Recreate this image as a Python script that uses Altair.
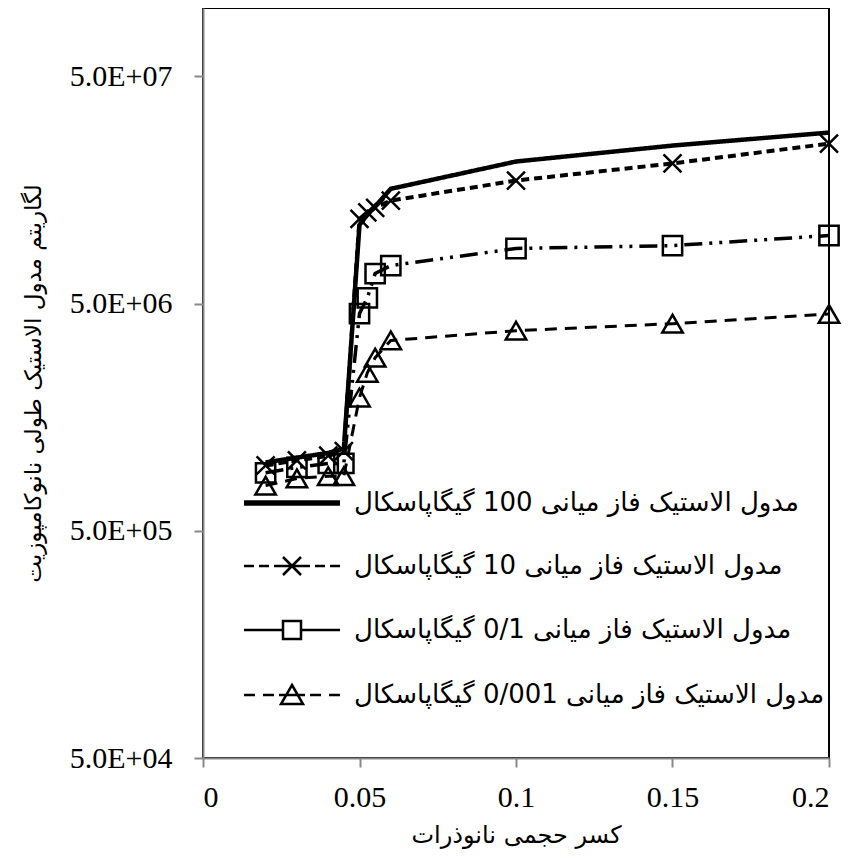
import json
import altair as alt
import pandas as pd

# ---- data ----
x_vals = [0.02, 0.03, 0.04, 0.045, 0.05, 0.0525, 0.055, 0.06, 0.1, 0.15, 0.2]

S100 = "مدول الاستیک فاز میانی 100 گیگاپاسکال"
S10 = "مدول الاستیک فاز میانی 10 گیگاپاسکال"
S01 = "مدول الاستیک فاز میانی 0/1 گیگاپاسکال"
S0001 = "مدول الاستیک فاز میانی 0/001 گیگاپاسکال"
series_names = [S100, S10, S01, S0001]

E_100 = [1.00e6, 1.05e6, 1.10e6, 1.15e6, 1.11e7, 1.23e7, 1.34e7, 1.60e7, 2.11e7, 2.48e7, 2.83e7]
E_10 = [0.97e6, 1.02e6, 1.07e6, 1.12e6, 1.18e7, 1.26e7, 1.32e7, 1.42e7, 1.74e7, 2.07e7, 2.53e7]
E_01 = [0.90e6, 0.95e6, 0.99e6, 0.99e6, 4.52e6, 5.3e6, 6.78e6, 7.35e6, 8.74e6, 9.0e6, 9.97e6]
E_0001 = [0.79e6, 0.85e6, 0.87e6, 0.87e6, 1.93e6, 2.48e6, 2.89e6, 3.44e6, 3.80e6, 4.08e6, 4.50e6]
series_values = [E_100, E_10, E_01, E_0001]

y_ticks = [5e4, 5e5, 5e6, 5e7]
y_tick_labels = ["5.0E+04", "5.0E+05", "5.0E+06", "5.0E+07"]
x_ticks = [0, 0.05, 0.1, 0.15, 0.2]
x_tick_labels = ["0", "0.05", "0.1", "0.15", "0.2"]

x_title = "کسر حجمی نانوذرات"
y_title = "لگاریتم مدول الاستیک طولی نانوکامپوزیت"

# ---- styles ----
dashes = [[1, 0], [8, 5], [18, 7, 3, 7, 3, 7], [12, 8]]
widths = [4.5, 3, 2.5, 2.5]
x_path = "M-1,-1L1,1M-1,1L1,-1"

# legend symbols (units of 10px): line + marker
leg_paths = [
    "M-4.8,-0.15H4.8M-4.8,0H4.8M-4.8,0.15H4.8",
    "M-4.8,0H-3.8M-3.3,0H-2.3M-1.8,0H1.8M2.3,0H3.3M3.8,0H4.8"
    "M-0.9,-0.9L0.9,0.9M-0.9,0.9L0.9,-0.9",
    "M-4.8,0H-1.0M1.0,0H4.8M-0.9,-0.9H0.9V0.9H-0.9Z",
    "M-4.8,0H-3.7M-2.9,0H-1.8M-1.3,0H1.3M1.8,0H2.9M3.7,0H4.8"
    "M0,-1.0L1.1,0.9L-1.1,0.9Z",
]

rows = []
for name, vals in zip(series_names, series_values):
    for xv, yv in zip(x_vals, vals):
        rows.append({"x": xv, "E": yv, "series": name})
df = pd.DataFrame(rows)


def label_expr(values, labels):
    parts = [f"datum.value == {v} ? {json.dumps(l)}" for v, l in zip(values, labels)]
    return " : ".join(parts) + " : ''"


shape_expr = " : ".join(
    f"datum.value === {json.dumps(n)} ? {json.dumps(p)}" for n, p in zip(series_names, leg_paths)
) + " : 'circle'"

x_enc = alt.X(
    "x:Q",
    scale=alt.Scale(domain=[0, 0.2], nice=False, zero=False),
    axis=alt.Axis(
        values=x_ticks,
        labelExpr=label_expr(x_ticks, x_tick_labels),
        title=x_title,
        grid=False,
        labelFont="Liberation Serif",
        labelFontSize=30,
        labelPadding=15,
        titleFont="DejaVu Sans",
        titleFontSize=24,
        titleFontWeight="normal",
        titlePadding=11,
        tickSize=9,
    ),
)
y_enc = alt.Y(
    "E:Q",
    scale=alt.Scale(type="log", domain=[5e4, 1e8], nice=False),
    axis=alt.Axis(
        values=y_ticks,
        labelExpr=label_expr(y_ticks, y_tick_labels),
        title=y_title,
        grid=False,
        labelFont="Liberation Serif",
        labelFontSize=30,
        labelPadding=22,
        titleFont="DejaVu Sans",
        titleFontSize=23,
        titleFontWeight="normal",
        titleX=-158,
        tickSize=9,
    ),
)

legend = alt.Legend(
    title=None,
    orient="none",
    legendX=76,
    legendY=482,
    symbolType={"expr": shape_expr},
    symbolSize=400,
    symbolStrokeWidth=2.5,
    symbolStrokeColor="black",
    symbolFillColor="transparent",
    symbolOpacity=1,
    labelFont="DejaVu Sans",
    labelFontSize=26,
    labelColor="black",
    labelOffset=49,
    labelLimit=800,
    rowPadding=36,
    padding=0,
)

lines = (
    alt.Chart(df)
    .mark_line(strokeCap="butt", strokeJoin="miter", color="black")
    .encode(
        x=x_enc,
        y=y_enc,
        strokeDash=alt.StrokeDash(
            "series:N", scale=alt.Scale(domain=series_names, range=dashes), legend=None
        ),
        strokeWidth=alt.StrokeWidth(
            "series:N", scale=alt.Scale(domain=series_names, range=widths), legend=None
        ),
        detail="series:N",
    )
)

marker_series = series_names[1:]
points = (
    alt.Chart(df)
    .transform_filter(alt.FieldOneOfPredicate(field="series", oneOf=marker_series))
    .transform_calculate(mk="datum.series")
    .mark_point(filled=False, opacity=1, strokeWidth=2.5)
    .encode(
        x="x:Q",
        y="E:Q",
        color=alt.Color(
            "series:N",
            scale=alt.Scale(domain=series_names, range=["black"] * 4),
            legend=legend,
        ),
        shape=alt.Shape(
            "mk:N",
            scale=alt.Scale(domain=marker_series, range=[x_path, "square", "triangle-up"]),
            legend=None,
        ),
        size=alt.Size(
            "mk:N",
            scale=alt.Scale(domain=marker_series, range=[324, 420, 700]),
            legend=None,
        ),
    )
)

chart = (
    alt.layer(lines, points)
    .resolve_scale(strokeDash="independent", strokeWidth="independent",
                   shape="independent", size="independent")
    .properties(
        width=626,
        height=750,
        autosize=alt.AutoSizeParams(type="none"),
        padding={"left": 195, "top": 0, "right": 26, "bottom": 92},
    )
    .configure_view(stroke="black", strokeWidth=2)
    .configure_axis(
        domainColor="#888888",
        tickColor="#888888",
        domainWidth=2,
        tickWidth=2,
        labelColor="black",
        titleColor="black",
    )
)

chart.save("out.html", embed_options={"renderer": "svg", "actions": False})
